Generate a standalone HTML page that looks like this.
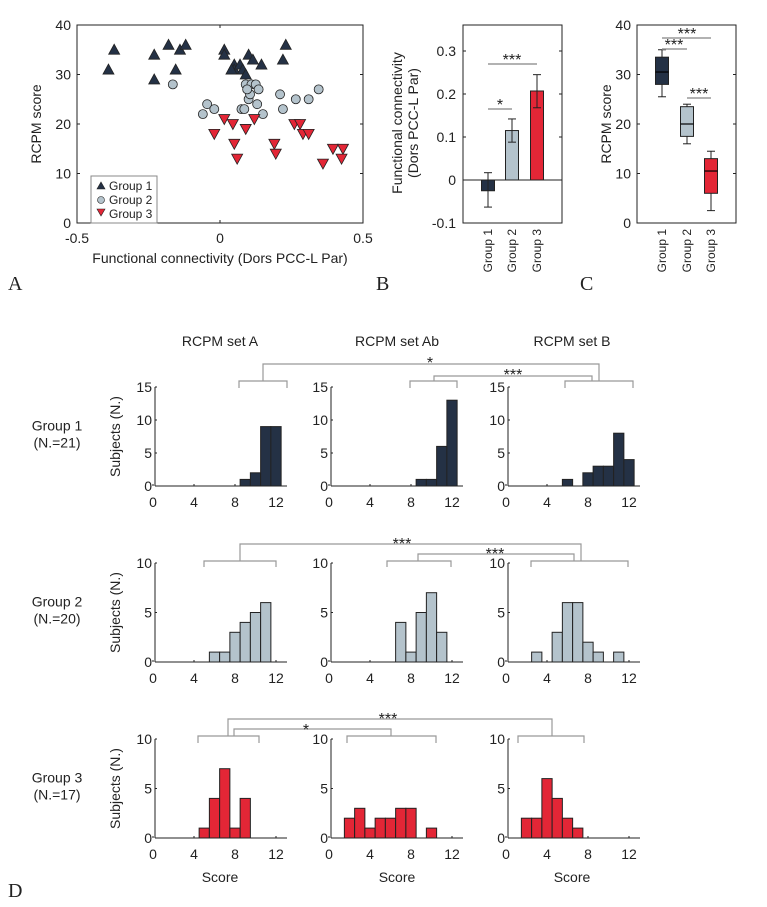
<!DOCTYPE html>
<html><head><meta charset="utf-8"><style>
body{margin:0;background:#fff}
svg{display:block;font-family:"Liberation Sans",sans-serif}
text{fill:#222}
</style></head><body>
<svg id="fig" width="767" height="907" viewBox="0 0 767 907" xmlns="http://www.w3.org/2000/svg"></svg>
<script>
// ---- Panel A data ----
const g1x=[-0.39,-0.37,-0.23,-0.23,-0.18,-0.155,-0.14,-0.12,0.015,0.015,0.05,0.05,0.04,0.07,0.08,0.09,0.10,0.115,0.145,0.22,0.23];
const g1y=[31,35,34,29,36,31,35,36,35,34,32,31,31,32,31,30,34,33,32,33,36];
const g2x=[-0.165,-0.06,-0.045,-0.02,0.075,0.085,0.09,0.10,0.105,0.11,0.125,0.13,0.135,0.15,0.21,0.22,0.265,0.31,0.345,0.095];
const g2y=[28,22,24,23,23,23,28,25,26,28,28,24,27,22,26,23,25,25,27,27];
const g3x=[-0.02,0.015,0.045,0.05,0.06,0.09,0.12,0.19,0.195,0.26,0.28,0.29,0.31,0.36,0.395,0.43,0.425];
const g3y=[18,21,20,16,13,19,21,16,14,20,20,18,18,12,15,15,13];
// ---- Panel B data ----
const bGroups=["Group 1","Group 2","Group 3"];
const bMeans=[-0.025,0.115,0.207];
const bLow=[-0.063,0.088,0.168];
const bHigh=[0.017,0.142,0.245];
// ---- Panel C data ----
const cWhLo=[25.5,16,2.5];
const cQ1=[28,17.5,6];
const cMed=[30.5,20,10.5];
const cQ3=[33.5,23.5,13];
const cWhHi=[35,24,14.5];
// ---- Panel D data ----
const dSets=["RCPM set A","RCPM set Ab","RCPM set B"];
const dRows=["Group 1","Group 2","Group 3"];
const dN=["(N.=21)","(N.=20)","(N.=17)"];
const dXTicks=[0,4,8,12];
const dYMax=[15,10,10];
const h1A={9:1,10:2,11:9,12:9};
const h1Ab={9:1,10:1,11:6,12:13};
const h1B={6:1,8:2,9:3,10:3,11:8,12:4};
const h2A={6:1,7:1,8:3,9:4,10:5,11:6};
const h2Ab={7:4,8:1,9:5,10:7,11:3};
const h2B={3:1,5:3,6:6,7:6,8:2,9:1,11:1};
const h3A={5:1,6:4,7:7,8:1,9:4};
const h3Ab={2:2,3:3,4:1,5:2,6:2,7:3,8:3,10:1};
const h3B={2:2,3:2,4:6,5:4,6:2,7:1};
const hists=[[h1A,h1Ab,h1B],[h2A,h2Ab,h2B],[h3A,h3Ab,h3B]];

const C1="#243145",C2="#b4c3cc",C3="#e32636",ED="#222";
const svg=document.getElementById('fig');
const NS="http://www.w3.org/2000/svg";
function el(tag,attrs,parent,txt){const e=document.createElementNS(NS,tag);for(const k in attrs)e.setAttribute(k,attrs[k]);if(txt!==undefined)e.textContent=txt;(parent||svg).appendChild(e);return e;}
function grp(name){const g=document.createElementNS(NS,'g');


svg.appendChild(g);return g;}
function line(g,x1,y1,x2,y2,c,w){return el('line',{x1,y1,x2,y2,stroke:c||ED,'stroke-width':w||1},g);}
function txt(g,x,y,s,opt){opt=opt||{};return el('text',Object.assign({x,y,'font-size':opt.fs||14,'text-anchor':opt.a||'middle'},opt.extra||{}),g,s);}

// ===== Panel A =====
(function(){
const g=grp('scatter-panel-a');
const L=77,R=363,T=25,B=223;
const sx=v=>L+(v+0.5)*(R-L);const sy=v=>B-v/40*(B-T);
el('rect',{x:L,y:T,width:R-L,height:B-T,fill:'none',stroke:ED,'stroke-width':1},g);
[0,10,20,30,40].forEach(v=>{txt(g,L-6,sy(v)+5,String(v),{a:'end'});line(g,L,sy(v),L+3,sy(v));line(g,R,sy(v),R-3,sy(v));});
[-0.5,0,0.5].forEach(v=>{txt(g,sx(v),B+20,String(v));line(g,sx(v),B,sx(v),B-3);line(g,sx(v),T,sx(v),T+3);});
const yl=txt(g,0,0,'RCPM score',{extra:{transform:'translate(41,124) rotate(-90)'}});

const xl=txt(g,220,263,'Functional connectivity (Dors PCC-L Par)');

function up(x,y,c){return el('polygon',{points:`${x-5.5},${y+4.5} ${x+5.5},${y+4.5} ${x},${y-5.5}`,fill:c,stroke:ED,'stroke-width':0.8},g);}
function dn(x,y,c){return el('polygon',{points:`${x-5.5},${y-4.5} ${x+5.5},${y-4.5} ${x},${y+5.5}`,fill:c,stroke:ED,'stroke-width':0.8},g);}
g1x.forEach((v,i)=>{const p=up(sx(v),sy(g1y[i]),C1);});
g2x.forEach((v,i)=>{const p=el('circle',{cx:sx(v),cy:sy(g2y[i]),r:4.5,fill:C2,stroke:ED,'stroke-width':0.8},g);});
g3x.forEach((v,i)=>{const p=dn(sx(v),sy(g3y[i]),C3);});
const lg=el('g',{},g);
el('rect',{x:91,y:176,width:66,height:47,fill:'#fff',stroke:'#888','stroke-width':1},lg);
el('polygon',{points:'97,189 105,189 101,182',fill:C1,stroke:ED,'stroke-width':0.6},lg);
el('circle',{cx:101,cy:200,r:3.5,fill:C2,stroke:ED,'stroke-width':0.6},lg);
el('polygon',{points:'97,209 105,209 101,216',fill:C3,stroke:ED,'stroke-width':0.6},lg);
txt(lg,109,190,'Group 1',{a:'start',fs:12});txt(lg,109,204,'Group 2',{a:'start',fs:12});txt(lg,109,218,'Group 3',{a:'start',fs:12});
el('text',{x:8,y:290,'font-size':20,'font-family':'Liberation Serif, serif'},g,'A');
})();

// ===== Panel B =====
(function(){
const g=grp('bar-panel-b');
const L=463,R=562,T=25,B=223;
const sy=v=>180-v*430;const cx=[488,512,537];
el('rect',{x:L,y:T,width:R-L,height:B-T,fill:'none',stroke:ED},g);
[-0.1,0,0.1,0.2,0.3].forEach(v=>{txt(g,L-7,sy(v)+5,String(v),{a:'end'});line(g,L,sy(v),L+3,sy(v));line(g,R,sy(v),R-3,sy(v));});
bMeans.forEach((m,i)=>{const y0=sy(0),y1=sy(m);
const r=el('rect',{x:cx[i]-6.5,y:Math.min(y0,y1),width:13,height:Math.abs(y1-y0),fill:[C1,C2,C3][i],stroke:ED},g);

line(g,cx[i],sy(bLow[i]),cx[i],sy(bHigh[i]));line(g,cx[i]-4,sy(bLow[i]),cx[i]+4,sy(bLow[i]));line(g,cx[i]-4,sy(bHigh[i]),cx[i]+4,sy(bHigh[i]));
txt(g,0,0,bGroups[i],{fs:12,a:'end',extra:{transform:`translate(${cx[i]+4},229) rotate(-90)`}});});
line(g,L,sy(0),R,sy(0));
line(g,488,109,512,109,'#999',1.5);txt(g,500,110,'*',{fs:16});
line(g,488,64,537,64,'#999',1.5);txt(g,512,65,'***',{fs:16});
txt(g,0,0,'Functional connectivity',{extra:{transform:'translate(402,123) rotate(-90)'}});
txt(g,0,0,'(Dors PCC-L Par)',{extra:{transform:'translate(418,123) rotate(-90)'}});
el('text',{x:376,y:290,'font-size':20,'font-family':'Liberation Serif, serif'},g,'B');
})();

// ===== Panel C =====
(function(){
const g=grp('boxplot-panel-c');
const L=637,R=736,T=25,B=223;const sy=v=>B-v/40*(B-T);const cx=[662,687,711];
el('rect',{x:L,y:T,width:R-L,height:B-T,fill:'none',stroke:ED},g);
[0,10,20,30,40].forEach(v=>{txt(g,L-6,sy(v)+5,String(v),{a:'end'});line(g,L,sy(v),L+3,sy(v));line(g,R,sy(v),R-3,sy(v));});
cMed.forEach((m,i)=>{
line(g,cx[i],sy(cWhLo[i]),cx[i],sy(cWhHi[i]));line(g,cx[i]-4,sy(cWhLo[i]),cx[i]+4,sy(cWhLo[i]));line(g,cx[i]-4,sy(cWhHi[i]),cx[i]+4,sy(cWhHi[i]));
const r=el('rect',{x:cx[i]-6.5,y:sy(cQ3[i]),width:13,height:sy(cQ1[i])-sy(cQ3[i]),fill:[C1,C2,C3][i],stroke:ED},g);

line(g,cx[i]-6.5,sy(m),cx[i]+6.5,sy(m),'#000',1.2);
txt(g,0,0,bGroups[i],{fs:12,a:'end',extra:{transform:`translate(${cx[i]+4},229) rotate(-90)`}});});
line(g,662,38,711,38,'#999',1.5);txt(g,687,39,'***',{fs:16});
line(g,662,49,687,49,'#999',1.5);txt(g,674,50,'***',{fs:16});
line(g,687,98,711,98,'#999',1.5);txt(g,699,99,'***',{fs:16});
txt(g,0,0,'RCPM score',{extra:{transform:'translate(611,124) rotate(-90)'}});
el('text',{x:580,y:290,'font-size':20,'font-family':'Liberation Serif, serif'},g,'C');
})();

// ===== Panel D =====
(function(){
const g=grp('histogram-panel-d');
const zeroX=[153,329,506],u=10.25;
const rowBase=[486,662,838],rowH=99;
const colCenters=[220,397,572];
dSets.forEach((s,c)=>txt(g,colCenters[c],346,s));
dRows.forEach((rname,r)=>{
  const cy=rowBase[r]-rowH/2;
  txt(g,57,cy-6,rname);txt(g,57,cy+11,dN[r]);
  dSets.forEach((s,c)=>{
    const x0=zeroX[c],b=rowBase[r],ym=dYMax[r];
    const sx=v=>x0+v*u;const sy=v=>b-v/ym*rowH;
    const ag=el('g',{},g);
    line(ag,x0+2,b-rowH,x0+2,b);line(ag,x0+2,b,x0+134,b);
    dXTicks.forEach(t=>{line(ag,sx(t),b,sx(t),b-2);txt(ag,sx(t),b+21,String(t));});
    const yt=ym===15?[0,5,10,15]:[0,5,10];
    yt.forEach(t=>{line(ag,x0+2,sy(t),x0+4,sy(t));txt(ag,x0-1,sy(t)+5,String(t),{a:'end'});});
    if(c===0)txt(ag,0,0,'Subjects (N.)',{extra:{transform:`translate(${x0-33},${b-rowH/2}) rotate(-90)`}});
    const h=hists[r][c];
    Object.keys(h).forEach(k=>{const v=h[k],kk=+k;
      const br=el('rect',{x:sx(kk-0.5),y:sy(v),width:u,height:b-sy(v),fill:[C1,C2,C3][r],stroke:ED,'stroke-width':1},ag);
      });
    if(r===2)txt(ag,colCenters[c],882,'Score');
  });
});
const G='#999';
function bracket(x1,x2,y,leg){el('polyline',{points:`${x1},${y+leg} ${x1},${y} ${x2},${y} ${x2},${y+leg}`,fill:'none',stroke:G,'stroke-width':1.2},g);}
function conn(xa,xb,ytop,ybot){el('polyline',{points:`${xa},${ybot} ${xa},${ytop} ${xb},${ytop} ${xb},${ybot}`,fill:'none',stroke:G,'stroke-width':1.2},g);}
// row1
bracket(239,287,381,7);bracket(410,457,381,7);bracket(565,633,381,7);
conn(263,599,364,381);txt(g,430,368,'*',{fs:16});
conn(434,592,376,381);txt(g,513,380,'***',{fs:16});
// row2
bracket(204,276,561,6);bracket(387,451,561,6);bracket(531,628,561,6);
conn(240,581,544,561);txt(g,402,549,'***',{fs:16});
conn(418,574,554,561);txt(g,495,559,'***',{fs:16});
// row3
bracket(198,259,736,7);bracket(347,436,736,7);bracket(518,584,736,7);
conn(228,552,719,736);txt(g,388,724,'***',{fs:16});
conn(234,391,729,736);txt(g,306,735,'*',{fs:16});
el('text',{x:8,y:897,'font-size':20,'font-family':'Liberation Serif, serif'},g,'D');
})();
</script>
</body></html>
